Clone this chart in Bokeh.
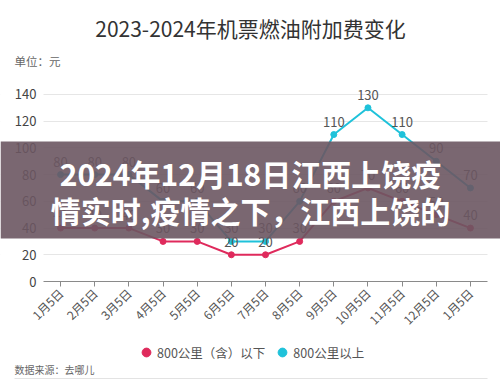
import math
from bokeh.plotting import figure
from bokeh.layouts import column
from bokeh.models import (ColumnDataSource, LabelSet, Label, BoxAnnotation, FixedTicker,
                          Legend, LegendItem, Range1d)
from bokeh.embed import file_html
from bokeh.resources import INLINE
from bokeh.core.properties import value

# ---- data ----
months = ["1月5日", "2月5日", "3月5日", "4月5日", "5月5日", "6月5日", "7月5日",
          "8月5日", "9月5日", "10月5日", "11月5日", "12月5日", "1月5日"]
below_800 = [40, 40, 40, 30, 30, 20, 20, 30, 60, 70, 60, 50, 40]
above_800 = [80, 80, 80, 60, 60, 30, 30, 60, 110, 130, 110, 90, 70]
y_ticks = [0, 20, 40, 60, 80, 100, 120, 140]
series_names = ["800公里（含）以下", "800公里以上"]
title_text = "2023-2024年机票燃油附加费变化"
unit_text = "单位：元"
source_text = "数据来源：去哪儿"
banner_lines = ["2024年12月18日江西上饶疫", "情实时,疫情之下，江西上饶的"]

PINK = "#df2a5c"
CYAN = "#1fc2da"
FONT = "Noto Sans CJK SC"
W = 500
PLOT_LEFT, PLOT_RIGHT = 43, 487      # extent of the plotting area on the page


def no_align(f):
    if "frame_align" in f.properties():
        f.frame_align = False


def blank(h):
    f = figure(width=W, height=h, output_backend="svg", toolbar_location=None,
               x_range=Range1d(0, W), y_range=Range1d(0, h),
               x_axis_type=None, y_axis_type=None,
               min_border_left=0, min_border_right=0, min_border_top=0, min_border_bottom=0)
    f.outline_line_color = None
    f.xgrid.visible = False
    f.ygrid.visible = False
    no_align(f)
    return f


# ---- header (title + unit) ----
head = blank(81)
head.add_layout(Label(x=250, y=54, x_units="screen", y_units="screen", text=title_text,
                      text_align="center", text_baseline="middle", text_font=FONT,
                      text_font_size="21px", text_color="#333333"))
head.add_layout(Label(x=14, y=21, x_units="screen", y_units="screen", text=unit_text,
                      text_align="left", text_baseline="middle", text_font=FONT,
                      text_font_size="11.5px", text_color="#666666"))

# ---- main chart (frame spans the full width so the banner can too) ----
n = len(months)
xs = list(range(n))
step = (PLOT_RIGHT - PLOT_LEFT) / n
x_start = -0.5 - PLOT_LEFT / step
x_end = n - 0.5 + (W - PLOT_RIGHT) / step

p = figure(width=W, height=260, output_backend="svg", toolbar_location=None,
           x_range=Range1d(x_start, x_end), y_range=Range1d(0, 149.7),
           min_border_left=0, min_border_right=0, min_border_top=0, min_border_bottom=60)
p.outline_line_color = None
no_align(p)

p.xaxis.ticker = FixedTicker(ticks=xs)
p.xaxis.bounds = (-0.5, n - 0.5)
p.xaxis.major_label_overrides = {i: m for i, m in enumerate(months)}
p.xaxis.major_label_orientation = math.pi / 4
p.xaxis.major_label_text_font = FONT
p.xaxis.major_label_text_font_size = "12px"
p.xaxis.major_label_text_color = "#555555"
p.xaxis.axis_line_color = "#8a8a8a"
p.xaxis.major_tick_line_color = "#8a8a8a"
p.xaxis.major_tick_out = 5
p.xaxis.major_tick_in = 0
p.xaxis.minor_tick_line_color = None
p.xaxis.major_label_standoff = 4

p.yaxis.ticker = FixedTicker(ticks=y_ticks)
p.yaxis.axis_line_color = None
p.yaxis.major_tick_line_color = None
p.yaxis.minor_tick_line_color = None
p.yaxis.major_tick_out = 0
p.yaxis.major_tick_in = 0
p.yaxis.major_label_text_font = FONT
p.yaxis.major_label_text_font_size = "13px"
p.yaxis.major_label_text_color = "#444444"
p.yaxis.major_label_standoff = -36

p.xgrid.grid_line_color = None
p.ygrid.grid_line_color = "#e6e6e6"
p.ygrid.ticker = FixedTicker(ticks=y_ticks[1:])

# white masks so grid lines only span the plotting area
p.add_layout(BoxAnnotation(left=-5, right=PLOT_LEFT, left_units="screen", right_units="screen",
                           fill_color="white", fill_alpha=1, line_color=None, level="underlay"))
p.add_layout(BoxAnnotation(left=PLOT_RIGHT, right=W + 5, left_units="screen", right_units="screen",
                           fill_color="white", fill_alpha=1, line_color=None, level="underlay"))

src1 = ColumnDataSource(dict(x=xs, y=below_800, lbl=[str(v) for v in below_800]))
src2 = ColumnDataSource(dict(x=xs, y=above_800, lbl=[str(v) for v in above_800]))

p.line("x", "y", source=src1, line_color=PINK, line_width=2)
p.scatter("x", "y", source=src1, size=6, fill_color=PINK, line_color=PINK)
p.line("x", "y", source=src2, line_color=CYAN, line_width=2)
p.scatter("x", "y", source=src2, size=6, fill_color=CYAN, line_color=CYAN)

for s in (src1, src2):
    p.add_layout(LabelSet(x="x", y="y", text="lbl", source=s, y_offset=8,
                          text_align="center", text_baseline="bottom",
                          text_font=value(FONT), text_font_size="13px",
                          text_color="#555555"))

# banner overlay (frame bottom is at y=281 of the page; banner spans 141..238)
p.add_layout(BoxAnnotation(top=140, bottom=43, top_units="screen", bottom_units="screen",
                           fill_color="#6b5662", fill_alpha=0.9, line_color=None))
p.add_layout(Label(x=250, y=109, x_units="screen", y_units="screen", text=banner_lines[0],
                   text_align="center", text_baseline="middle", text_font=FONT,
                   text_font_style="bold", text_font_size="30px", text_color="white"))
p.add_layout(Label(x=250, y=72, x_units="screen", y_units="screen", text=banner_lines[1],
                   text_align="center", text_baseline="middle", text_font=FONT,
                   text_font_style="bold", text_font_size="30px", text_color="white"))

# ---- footer (legend + source) ----
foot = blank(40)
k1 = foot.scatter("x", "y", source=src1, size=10, fill_color=PINK, line_color=PINK, visible=False)
k2 = foot.scatter("x", "y", source=src2, size=10, fill_color=CYAN, line_color=CYAN, visible=False)
legend = Legend(items=[LegendItem(label=series_names[0], renderers=[k1]),
                       LegendItem(label=series_names[1], renderers=[k2])],
                orientation="horizontal", location=(135, 18),
                border_line_color=None, background_fill_alpha=0,
                inactive_fill_alpha=0,
                label_text_font=FONT, label_text_font_size="12.5px",
                label_text_color="#555555", glyph_width=22, glyph_height=22,
                spacing=6, padding=0, margin=0, label_standoff=-4)
foot.add_layout(legend, "center")
foot.add_layout(Label(x=14, y=12, x_units="screen", y_units="screen", text=source_text,
                      text_align="left", text_baseline="middle", text_font=FONT,
                      text_font_size="10px", text_color="#666666"))
foot.add_layout(BoxAnnotation(left=14, right=487, bottom=2.5, top=3.5,
                              left_units="screen", right_units="screen",
                              top_units="screen", bottom_units="screen",
                              fill_color="#e3e3e3", fill_alpha=1, line_color=None))

open("out.html", "w").write(file_html(column(head, p, foot, spacing=0), INLINE))
